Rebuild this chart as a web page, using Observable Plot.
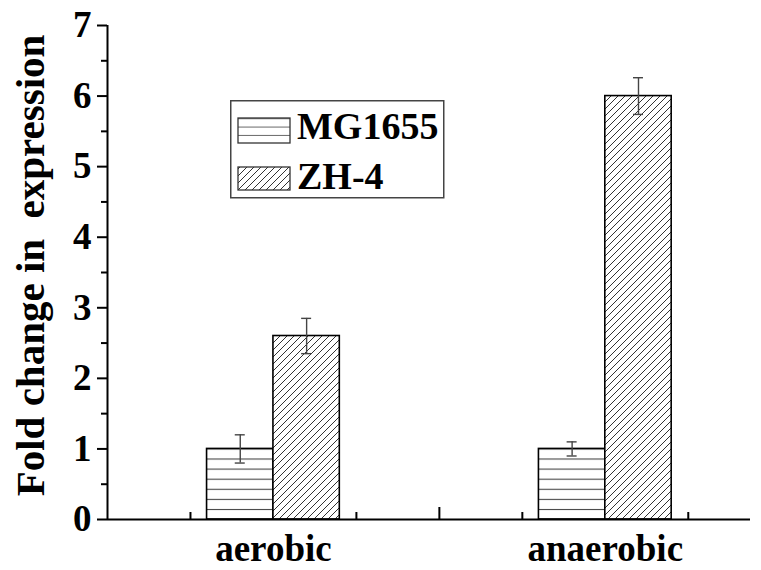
<!DOCTYPE html>
<html>
<head>
<meta charset="utf-8">
<script src="https://cdn.jsdelivr.net/npm/d3@7"></script>
<script src="https://cdn.jsdelivr.net/npm/@observablehq/plot@0.6"></script>
<style>
  html, body { margin: 0; padding: 0; background: #fff; }
  #chart { position: relative; width: 761px; height: 570px; }
  #legend { position: absolute; left: 230px; top: 100px; }
</style>
</head>
<body>
<div id="chart"></div>
<script>
// ---- data ----
const conditions = ["aerobic", "anaerobic"];
const conditionPos = [2, 6];
const strains = ["MG1655", "ZH-4"];
const mg1655 = [1.0, 1.0];
const mg1655Err = [0.2, 0.1];
const zh4 = [2.6, 6.0];
const zh4Err = [0.25, 0.26];
const yTicks = [0, 1, 2, 3, 4, 5, 6, 7];
const yMinorTicks = [0.5, 1.5, 2.5, 3.5, 4.5, 5.5, 6.5];
const xMinorTicks = [1, 3, 5, 7];
const xMajorTicks = [4];
const yLabel = "Fold change in  expression";

// ---- layout constants ----
const W = 761, H = 570;
const mL = 107, mR = 11, mT = 25, mB = 51;
const barW = 0.8;
const FONT = "Liberation Serif, Times New Roman, serif";
const yPx = 7 / (H - mT - mB);       // data units per pixel (y)
const xPx = 7.75 / (W - mL - mR);    // data units per pixel (x)

const rows = [];
conditions.forEach((c, i) => {
  rows.push({condition: c, strain: strains[0], value: mg1655[i], err: mg1655Err[i],
             x1: conditionPos[i] - barW, x2: conditionPos[i], xc: conditionPos[i] - barW / 2});
  rows.push({condition: c, strain: strains[1], value: zh4[i], err: zh4Err[i],
             x1: conditionPos[i], x2: conditionPos[i] + barW, xc: conditionPos[i] + barW / 2});
});
const capHalf = 5 * xPx;

const plot = Plot.plot({
  width: W, height: H,
  marginLeft: mL, marginRight: mR, marginTop: mT, marginBottom: mB,
  style: {fontFamily: FONT, color: "black", background: "white", overflow: "visible"},
  x: {domain: [0, 7.75], axis: null},
  y: {domain: [0, 7], axis: null},
  color: {domain: strains, range: ["url(#hatchH)", "url(#hatchD)"]},
  marks: [
    Plot.rectY(rows, {x1: "x1", x2: "x2", y1: 0, y2: "value", fill: "strain", stroke: "black", strokeWidth: 1.6}),
    Plot.ruleX(rows, {x: "xc", y1: d => d.value - d.err, y2: d => d.value + d.err, stroke: "#444", strokeWidth: 1.4}),
    Plot.ruleY(rows, {y: d => d.value + d.err, x1: d => d.xc - capHalf, x2: d => d.xc + capHalf, stroke: "#444", strokeWidth: 1.4}),
    Plot.ruleY(rows, {y: d => d.value - d.err, x1: d => d.xc - capHalf, x2: d => d.xc + capHalf, stroke: "#444", strokeWidth: 1.4}),
    // axes lines
    Plot.ruleX([0], {stroke: "black", strokeWidth: 2}),
    Plot.ruleY([0], {stroke: "black", strokeWidth: 2}),
    // y axis ticks
    Plot.axisY({ticks: yTicks, tickSize: 10, tickPadding: 6, strokeWidth: 2, fontSize: 37, fontWeight: "bold", tickFormat: d => String(d), label: null}),
    Plot.axisY({ticks: yMinorTicks, tickSize: 6, strokeWidth: 2, tickFormat: () => "", label: null}),
    // x axis inward ticks
    Plot.ruleX(xMinorTicks, {y1: 0, y2: 7 * yPx, stroke: "black", strokeWidth: 2}),
    Plot.ruleX(xMajorTicks, {y1: 0, y2: 12 * yPx, stroke: "black", strokeWidth: 2}),
    // category labels
    Plot.text(conditions, {x: (d, i) => conditionPos[i], y: 0, text: d => d, dy: 30, fontSize: 37, fontWeight: "bold", fill: "black"}),
    // y label
    Plot.text([yLabel], {frameAnchor: "left", textAnchor: "middle", dx: -77, dy: -7, rotate: -90, text: d => d, fontSize: 41, fontWeight: "bold", fill: "black"})
  ]
});

// patterns
const yScale = plot.scale("y");
const y0 = yScale.apply(0);
const hStep = (yScale.apply(0) - yScale.apply(1)) / 7;
const ns = "http://www.w3.org/2000/svg";
const defs = document.createElementNS(ns, "defs");
defs.innerHTML = `
  <pattern id="hatchH" patternUnits="userSpaceOnUse" width="10" height="${hStep}" y="${y0 % hStep}">
    <rect width="10" height="${hStep}" fill="white"/>
    <line x1="0" y1="0" x2="10" y2="0" stroke="#333" stroke-width="2"/>
  </pattern>
  <pattern id="hatchD" patternUnits="userSpaceOnUse" width="7" height="7">
    <rect width="7" height="7" fill="white"/>
    <path d="M-1,8 L8,-1 M-1,1 L1,-1 M6,8 L8,6" stroke="#333" stroke-width="1"/>
  </pattern>`;
plot.insertBefore(defs, plot.firstChild);

const chart = document.getElementById("chart");
chart.appendChild(plot);

// legend
const lg = document.createElementNS(ns, "svg");
lg.setAttribute("id", "legend");
lg.setAttribute("width", 215);
lg.setAttribute("height", 99);
lg.innerHTML = `
  <defs>
    <pattern id="lgH" patternUnits="userSpaceOnUse" width="10" height="8.3" y="1.7">
      <rect width="10" height="8.3" fill="white"/>
      <line x1="0" y1="0" x2="10" y2="0" stroke="#333" stroke-width="1.5"/>
    </pattern>
    <pattern id="lgD" patternUnits="userSpaceOnUse" width="7" height="7">
      <rect width="7" height="7" fill="white"/>
      <path d="M-1,8 L8,-1 M-1,1 L1,-1 M6,8 L8,6" stroke="#333" stroke-width="1"/>
    </pattern>
  </defs>
  <rect x="0.75" y="0.75" width="213" height="97" fill="white" stroke="#444" stroke-width="1.5"/>
  <rect x="8" y="18" width="52" height="25" fill="url(#lgH)" stroke="#333" stroke-width="1.3"/>
  <rect x="8" y="67" width="52" height="23" fill="url(#lgD)" stroke="#333" stroke-width="1.3"/>
  <text x="67" y="39" font-family="${FONT}" font-weight="bold" font-size="38">${strains[0]}</text>
  <text x="67" y="89" font-family="${FONT}" font-weight="bold" font-size="38">${strains[1]}</text>`;
chart.appendChild(lg);
</script>
</body>
</html>
